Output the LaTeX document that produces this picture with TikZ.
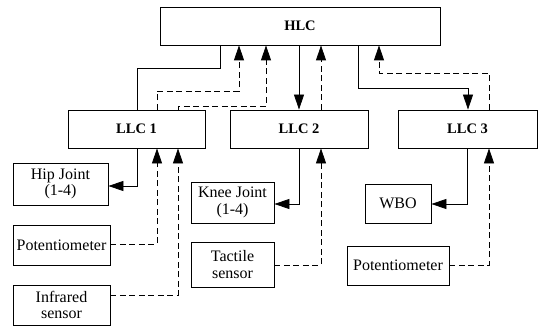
\documentclass[tikz,border=0pt]{standalone}
\usepackage{fontspec}
\setmainfont{Liberation Serif}
\usetikzlibrary{arrows.meta}
\begin{document}
\begin{tikzpicture}[x=1pt,y=-1pt,
  ctrl/.style={draw,line width=0.8pt,inner sep=1pt,font=\fontsize{14.5}{16}\selectfont\bfseries},
  dev/.style={draw,line width=0.8pt,inner sep=1pt,align=center,font=\fontsize{16}{16.5}\selectfont},
  sig/.style={line width=0.8pt},
  fb/.style={line width=0.8pt,dash pattern=on 6pt off 3.5pt},
  tip/.style={-{Triangle[length=15pt,width=10pt]}}]
\useasboundingbox (0,0) rectangle (540,326);
% controllers
\node[ctrl,minimum width=280pt,minimum height=38pt] (HLC) at (300,26) {HLC};
\node[ctrl,minimum width=137pt,minimum height=38pt] (LLC1) at (136.5,129) {LLC 1};
\node[ctrl,minimum width=138pt,minimum height=38pt] (LLC2) at (299,129) {LLC 2};
\node[ctrl,minimum width=139pt,minimum height=38pt] (LLC3) at (467.5,129) {LLC 3};
% devices
\node[dev,minimum width=95pt,minimum height=42pt] (hip) at (60.5,184) {Hip Joint\\(1-4)};
\node[dev,minimum width=97pt,minimum height=40pt] (pot1) at (61.5,245) {Potentiometer};
\node[dev,minimum width=97pt,minimum height=40pt] (ir) at (61.5,305) {Infrared\\sensor};
\node[dev,minimum width=83pt,minimum height=41pt] (knee) at (232.5,202.5) {Knee Joint\\(1-4)};
\node[dev,minimum width=83pt,minimum height=45pt] (tact) at (232.5,264.5) {Tactile\\sensor};
\node[dev,minimum width=66pt,minimum height=39pt] (wbo) at (398,203.5) {WBO};
\node[dev,minimum width=102pt,minimum height=39pt] (pot2) at (398,265.5) {Potentiometer};
% HLC <-> LLC1
\draw[sig] (HLC.south -| 220,0) |- (137,68) -- (LLC1.north -| 137,0);
\draw[fb,tip] (LLC1.north -| 157,0) |- (239,91) -- (HLC.south -| 239,0);
\draw[fb,tip] (LLC1.north -| 178,0) |- (266,106) -- (HLC.south -| 266,0);
% HLC <-> LLC2
\draw[sig,tip] (HLC.south -| 299,0) -- (LLC2.north -| 299,0);
\draw[fb,tip] (LLC2.north -| 321,0) -- (HLC.south -| 321,0);
% HLC <-> LLC3
\draw[sig,tip] (HLC.south -| 358,0) |- (468,88) -- (LLC3.north -| 468,0);
\draw[fb,tip] (LLC3.north -| 489,0) |- (379,73) -- (HLC.south -| 379,0);
% LLC1 devices
\draw[sig,tip] (LLC1.south -| 137,0) |- (hip.east |- 0,186);
\draw[fb,tip] (pot1.east |- 0,244) -| (LLC1.south -| 157,0);
\draw[fb,tip] (ir.east |- 0,295) -| (LLC1.south -| 178,0);
% LLC2 devices
\draw[sig,tip] (LLC2.south -| 299,0) |- (knee.east |- 0,204);
\draw[fb,tip] (tact.east |- 0,265) -| (LLC2.south -| 321,0);
% LLC3 devices
\draw[sig,tip] (LLC3.south -| 467,0) |- (wbo.east |- 0,204);
\draw[fb,tip] (pot2.east |- 0,265) -| (LLC3.south -| 489,0);
\end{tikzpicture}
\end{document}
